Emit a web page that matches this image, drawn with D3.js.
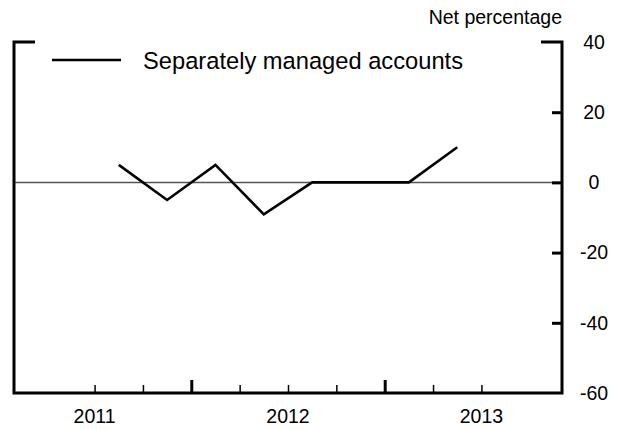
<!DOCTYPE html>
<html>
<head>
<meta charset="utf-8">
<script src="https://cdn.jsdelivr.net/npm/d3@7"></script>
<style>
  html, body { margin: 0; padding: 0; background: #fff; }
  svg { display: block; }
  text { font-family: "Liberation Sans", Arial, sans-serif; fill: #000; }
</style>
</head>
<body>
<svg id="chart" width="619" height="430"></svg>
<script>
// ---- data ----
const quarters = ["2011Q3", "2011Q4", "2012Q1", "2012Q2", "2012Q3", "2012Q4", "2013Q1", "2013Q2"];
const separatelyManaged = [5, -5, 5, -9.1, 0, 0, 0, 10];
const yTickValues = [40, 20, 0, -20, -40, -60];
const yearLabels = ["2011", "2012", "2013"];
const seriesName = "Separately managed accounts";
const unitLabel = "Net percentage";

// ---- helpers ----
const qToYear = q => +q.slice(0, 4) + (+q.slice(5) - 1) / 4 + 0.125; // mid-quarter

const svg = d3.select("#chart");
const L = 14, R = 562, T = 42, B = 393;

const x = d3.scaleLinear().domain([2011 + 1 / 12, 2013 + 11 / 12]).range([L, R]);
const y = d3.scaleLinear().domain([-60, 40]).range([B, T]);

// zero line
svg.append("line")
  .attr("x1", L).attr("x2", R)
  .attr("y1", y(0)).attr("y2", y(0))
  .attr("stroke", "#555").attr("stroke-width", 1.5);

// right axis (ticks inward)
const yAxis = d3.axisLeft(y).tickValues([20, 0, -20, -40]).tickSize(10).tickSizeOuter(0).tickFormat("");
const gy = svg.append("g").attr("transform", `translate(${R},0)`).call(yAxis);
gy.select(".domain").remove();
gy.selectAll(".tick line").attr("stroke", "#000").attr("stroke-width", 3);

// frame lines
const frame = svg.append("g").attr("stroke", "#000").attr("stroke-width", 3).attr("fill", "none");
frame.append("path").attr("d", `M${L + 21},${y(40)}H${L}V${B}H${R}V${y(40)}H${R - 21}`)
  .attr("stroke-linejoin", "miter");

// y labels
svg.append("g").selectAll("text").data(yTickValues).join("text")
  .attr("x", 594).attr("y", d => y(d)).attr("dy", "0.35em")
  .attr("text-anchor", "middle").attr("font-size", 19.5)
  .text(d => d);

svg.append("text").attr("x", 562).attr("y", 24).attr("text-anchor", "end")
  .attr("font-size", 19.5).text(unitLabel);

// bottom axis ticks
const minorTicks = [2011.5, 2011.75, 2012.25, 2012.5, 2012.75, 2013.25, 2013.5];
const majorTicks = [2012, 2013];
const xMinor = d3.axisBottom(x).tickValues(minorTicks).tickSize(-8).tickSizeOuter(0).tickFormat("");
const xMajor = d3.axisBottom(x).tickValues(majorTicks).tickSize(-13).tickSizeOuter(0).tickFormat("");
const gxm = svg.append("g").attr("transform", `translate(0,${B})`).call(xMinor);
gxm.select(".domain").remove();
gxm.selectAll(".tick line").attr("stroke", "#000").attr("stroke-width", 1.5);
const gxM = svg.append("g").attr("transform", `translate(0,${B})`).call(xMajor);
gxM.select(".domain").remove();
gxM.selectAll(".tick line").attr("stroke", "#000").attr("stroke-width", 3);

svg.append("g").selectAll("text").data(yearLabels).join("text")
  .attr("x", d => x(+d + 0.5)).attr("y", 423)
  .attr("text-anchor", "middle").attr("font-size", 19.5)
  .text(d => d);

// series line
const line = d3.line().x((d, i) => x(qToYear(quarters[i]))).y(d => y(d));
svg.append("path").datum(separatelyManaged)
  .attr("d", line)
  .attr("fill", "none").attr("stroke", "#000").attr("stroke-width", 2.6)
  .attr("stroke-linejoin", "miter");

// legend
svg.append("line").attr("x1", 52).attr("x2", 121).attr("y1", 60).attr("y2", 60)
  .attr("stroke", "#000").attr("stroke-width", 2.6);
svg.append("text").attr("x", 143).attr("y", 68.5).attr("font-size", 23.7).text(seriesName);
</script>
</body>
</html>
